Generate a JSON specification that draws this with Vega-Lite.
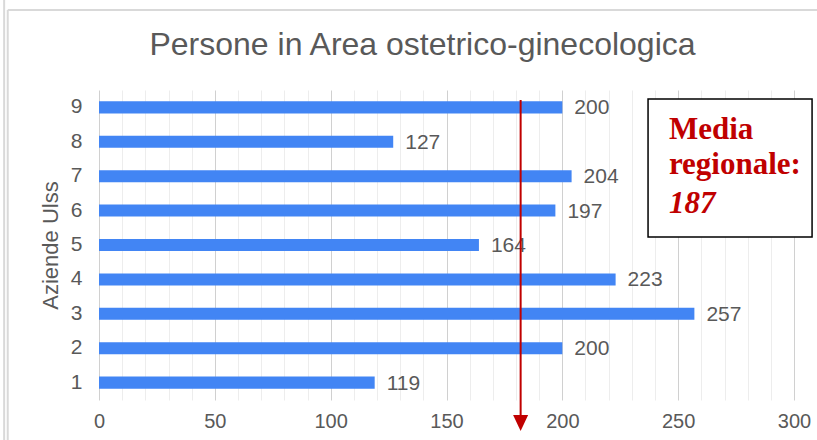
{
  "$schema": "https://vega.github.io/schema/vega-lite/v6.json",
  "width": 695,
  "height": 310,
  "autosize": {"type": "none"},
  "padding": {"left": 99, "top": 90, "right": 23, "bottom": 40},
  "background": "white",
  "config": {
    "view": {"stroke": null},
    "font": "Liberation Sans",
    "axisX": {
      "labelFont": "Liberation Sans",
      "labelFontSize": 20,
      "labelColor": "#595959",
      "labelPadding": 11,
      "labelOverlap": false,
      "labelFlush": false,
      "ticks": false,
      "domain": false,
      "grid": true,
      "gridWidth": 1,
      "tickCount": 30
    }
  },
  "title": {
    "text": "Persone in Area ostetrico-ginecologica",
    "fontSize": 32,
    "font": "Liberation Sans",
    "fontWeight": "normal",
    "color": "#595959",
    "anchor": "middle",
    "dx": -24,
    "offset": -66
  },
  "resolve": {"scale": {"y": "independent"}, "axis": {"y": "independent"}},
  "layer": [
    {
      "data": {
        "values": [
          {"azienda": "1", "persone": 119},
          {"azienda": "2", "persone": 200},
          {"azienda": "3", "persone": 257},
          {"azienda": "4", "persone": 223},
          {"azienda": "5", "persone": 164},
          {"azienda": "6", "persone": 197},
          {"azienda": "7", "persone": 204},
          {"azienda": "8", "persone": 127},
          {"azienda": "9", "persone": 200}
        ]
      },
      "encoding": {
        "y": {
          "field": "azienda",
          "type": "ordinal",
          "sort": "descending",
          "scale": {"paddingInner": 0.65, "paddingOuter": 0.33},
          "axis": {
            "title": "Aziende Ulss",
            "titleFont": "Liberation Sans",
            "titleFontSize": 22,
            "titleFontWeight": "normal",
            "titleColor": "#595959",
            "titlePadding": 8,
            "labelFont": "Liberation Sans",
            "labelFontSize": 21,
            "labelColor": "#595959",
            "labelPadding": 17,
            "ticks": false,
            "domain": false,
            "grid": false
          }
        },
        "x": {
          "field": "persone",
          "type": "quantitative",
          "scale": {"domain": [0, 300], "nice": false},
          "axis": {
            "title": null,
            "tickCount": 30,
            "labelOverlap": false,
            "labelFlush": false,
            "labelExpr": "datum.value % 50 === 0 ? datum.label : ''",
            "gridColor": {"condition": {"test": "datum.value % 50 === 0", "value": "#d0d0d0"}, "value": "#ededed"}
          }
        }
      },
      "layer": [
        {"mark": {"type": "bar", "color": "#4285f4"}},
        {
          "mark": {"type": "text", "align": "left", "baseline": "middle", "dx": 12, "dy": 1, "fontSize": 21, "color": "#595959", "font": "Liberation Sans"},
          "encoding": {"text": {"field": "persone", "type": "quantitative"}}
        }
      ]
    },
    {
      "data": {"values": [{"media": 187}]},
      "layer": [
        {
          "mark": {"type": "rule", "color": "#c00000", "strokeWidth": 2},
          "encoding": {
            "x": {
              "datum": 182,
              "type": "quantitative",
              "axis": {
                "title": null,
                "tickCount": 30,
                "labelOverlap": false,
                "labelFlush": false,
                "labelExpr": "datum.value % 50 === 0 ? datum.label : ''",
                "gridColor": {"condition": {"test": "datum.value % 50 === 0", "value": "#d0d0d0"}, "value": "#ededed"}
              }
            },
            "y": {"datum": 0.968, "type": "quantitative", "scale": {"domain": [0, 1], "nice": false, "zero": false}, "axis": null},
            "y2": {"datum": -0.06}
          }
        },
        {
          "mark": {"type": "rule", "color": "#d9d9d9", "strokeWidth": 2},
          "encoding": {
            "x": {"datum": -39.4, "type": "quantitative"},
            "x2": {"datum": 330},
            "y": {"datum": 1.258, "type": "quantitative"}
          }
        },
        {
          "mark": {"type": "rule", "color": "#d9d9d9", "strokeWidth": 2},
          "encoding": {
            "x": {"datum": -39.4, "type": "quantitative"},
            "y": {"datum": 1.258, "type": "quantitative"},
            "y2": {"datum": -0.15}
          }
        },
        {
          "mark": {"type": "rule", "color": "#d9d9d9", "strokeWidth": 2},
          "encoding": {
            "x": {"datum": -40.95, "type": "quantitative"},
            "y": {"datum": 1.3, "type": "quantitative"},
            "y2": {"datum": -0.15}
          }
        },
        {
          "mark": {"type": "point", "shape": "M-0.94,-1L0.94,-1L0,1Z", "filled": true, "color": "#c00000", "opacity": 1, "size": 256},
          "encoding": {
            "x": {"datum": 182, "type": "quantitative"},
            "y": {"datum": -0.074, "type": "quantitative"}
          }
        },
        {
          "mark": {"type": "rect", "fill": "white", "stroke": "black", "strokeWidth": 1.5},
          "encoding": {
            "x": {"datum": 237, "type": "quantitative"},
            "x2": {"datum": 307.8},
            "y": {"datum": 0.971, "type": "quantitative"},
            "y2": {"datum": 0.526}
          }
        },
        {
          "mark": {"type": "text", "text": "Media", "align": "left", "baseline": "alphabetic", "font": "Liberation Serif", "fontWeight": "bold", "fontSize": 31, "color": "#c00000"},
          "encoding": {
            "x": {"datum": 246, "type": "quantitative"},
            "y": {"datum": 0.841, "type": "quantitative"}
          }
        },
        {
          "mark": {"type": "text", "text": "regionale:", "align": "left", "baseline": "alphabetic", "font": "Liberation Serif", "fontWeight": "bold", "fontSize": 31, "color": "#c00000"},
          "encoding": {
            "x": {"datum": 246, "type": "quantitative"},
            "y": {"datum": 0.728, "type": "quantitative"}
          }
        },
        {
          "mark": {"type": "text", "align": "left", "baseline": "alphabetic", "font": "Liberation Serif", "fontWeight": "bold", "fontStyle": "italic", "fontSize": 31, "color": "#c00000"},
          "encoding": {
            "text": {"field": "media", "type": "quantitative"},
            "x": {"datum": 246, "type": "quantitative"},
            "y": {"datum": 0.604, "type": "quantitative"}
          }
        }
      ]
    }
  ]
}
